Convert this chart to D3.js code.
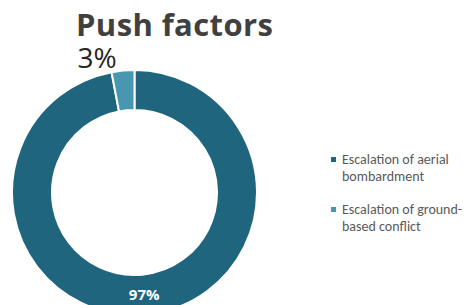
<!DOCTYPE html>
<html>
<head>
<meta charset="utf-8">
<script src="https://cdn.jsdelivr.net/npm/d3@7"></script>
<style>
  body { margin: 0; background: #fff; }
  svg { display: block; }
</style>
</head>
<body>
<div id="chart"></div>
<script>
// chart data
const categories = ['Escalation of aerial bombardment', 'Escalation of ground-based conflict'];
const values = [97, 3];
const valueLabels = ['97%', '3%'];
// legend lines (wrapped like the original)
const legendLines = [
  ['Escalation of aerial', 'bombardment'],
  ['Escalation of ground-', 'based conflict'],
];
const colors = ['#1e657d', '#4797b0'];

class PushFactorsDonut {
  constructor(containerId, width, height) {
    this.width = width;
    this.height = height;
    this.svg = d3.select(`#${containerId}`).append('svg').attr('width', width).attr('height', height);
    this.cx = 134.5;
    this.cy = 192.5;
    this.outer = 122.5;
    this.inner = 82.5;
  }

  drawTitle() {
    this.svg
      .append('text')
      .attr('x', 76)
      .attr('y', 36)
      .attr('font-family', '"Open Sans", sans-serif')
      .attr('font-weight', 700)
      .attr('font-size', 31)
      .attr('letter-spacing', 0.4)
      .attr('fill', '#404040')
      .text('Push factors');
  }

  drawDonut() {
    const pie = d3.pie().sort(null).value((d) => d);
    const arcs = pie(values);
    const arc = d3.arc().innerRadius(this.inner).outerRadius(this.outer);
    const g = this.svg.append('g').attr('transform', `translate(${this.cx},${this.cy})`);

    g.selectAll('path')
      .data(arcs)
      .enter()
      .append('path')
      .attr('d', arc)
      .attr('fill', (d, i) => colors[i])
      .attr('stroke', '#fff')
      .attr('stroke-width', 2);

    // big slice label sits on the arc centroid
    const c = arc.centroid(arcs[0]);
    g.append('text')
      .attr('x', c[0])
      .attr('y', c[1])
      .attr('dy', '0.35em')
      .attr('text-anchor', 'middle')
      .attr('font-family', '"Open Sans", sans-serif')
      .attr('font-weight', 700)
      .attr('font-size', 15)
      .attr('fill', '#fff')
      .text(valueLabels[0]);

    // small slice label goes outside, above the ring
    const outArc = d3.arc().innerRadius(this.outer + 14).outerRadius(this.outer + 14);
    const o = outArc.centroid(arcs[1]);
    g.append('text')
      .attr('x', o[0] - 5)
      .attr('y', o[1] + 11)
      .attr('text-anchor', 'end')
      .attr('font-family', '"Open Sans", sans-serif')
      .attr('font-size', 28)
      .attr('fill', '#262626')
      .text(valueLabels[1]);
  }

  drawLegend() {
    const items = this.svg
      .selectAll('g.legend')
      .data(categories)
      .enter()
      .append('g')
      .attr('class', 'legend')
      .attr('transform', (d, i) => `translate(331,${164 + i * 50})`);

    items.append('rect')
      .attr('x', 0)
      .attr('y', -7)
      .attr('width', 5)
      .attr('height', 5)
      .attr('fill', (d, i) => colors[i]);

    items.append('text')
      .attr('font-family', 'Carlito, Calibri, Lato, sans-serif')
      .attr('font-size', 14)
      .attr('fill', '#595959')
      .selectAll('tspan')
      .data((d, i) => legendLines[i])
      .enter()
      .append('tspan')
      .attr('x', 11)
      .attr('y', (d, j) => j * 17)
      .text((d) => d);
  }
}

const chart = new PushFactorsDonut('chart', 475, 305);
chart.drawTitle();
chart.drawDonut();
chart.drawLegend();
</script>
</body>
</html>
